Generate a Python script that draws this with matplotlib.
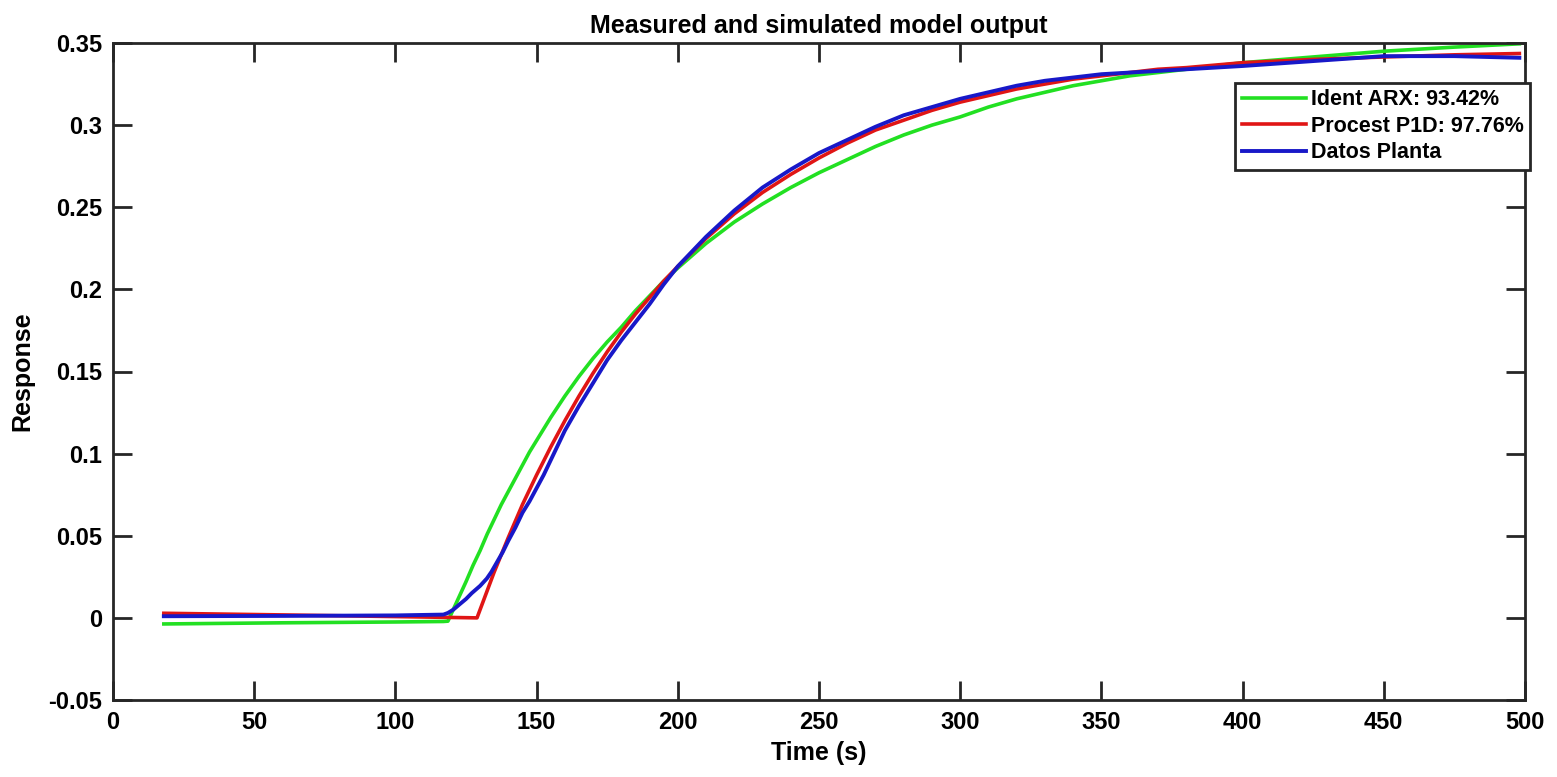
import os
os.environ.setdefault("MPLBACKEND", "Agg")

import matplotlib.pyplot as plt

# values
t_arx = [18, 60, 100, 117, 118.6, 121, 123, 125, 127.5, 130, 132.5, 135, 137.5, 140, 142.5,
         145, 147.5, 150, 155, 160, 165, 170, 175, 180, 185, 190, 195, 200, 210, 220, 230,
         240, 250, 260, 270, 280, 290, 300, 310, 320, 330, 340, 350, 360, 370, 380, 400, 425,
         450, 475, 498]
y_arx = [-0.0037, -0.0030, -0.0025, -0.0022, -0.0020, 0.007, 0.0145, 0.022, 0.032, 0.041,
         0.051, 0.060, 0.069, 0.077, 0.085, 0.093, 0.101, 0.108, 0.122, 0.135, 0.147, 0.158,
         0.168, 0.177, 0.187, 0.196, 0.205, 0.213, 0.228, 0.241, 0.252, 0.262, 0.271, 0.279,
         0.287, 0.294, 0.300, 0.305, 0.311, 0.316, 0.320, 0.324, 0.327, 0.330, 0.332, 0.334,
         0.338, 0.3415, 0.345, 0.3475, 0.3495]

t_p1d = [18, 60, 100, 128.9, 135, 140, 145, 150, 155, 160, 165, 170, 175, 180, 185, 190,
         195, 200, 210, 220, 230, 240, 250, 260, 270, 280, 290, 300, 310, 320, 330, 340,
         350, 360, 370, 380, 400, 425, 450, 475, 498]
y_p1d = [0.0028, 0.0018, 0.0008, 0.0, 0.028, 0.049, 0.069, 0.087, 0.104, 0.120, 0.135,
         0.149, 0.162, 0.174, 0.185, 0.195, 0.205, 0.214, 0.231, 0.246, 0.259, 0.270, 0.280,
         0.289, 0.297, 0.303, 0.309, 0.314, 0.318, 0.322, 0.325, 0.328, 0.330, 0.332, 0.334,
         0.335, 0.338, 0.340, 0.3415, 0.3428, 0.3436]

t_plant = [18, 60, 100, 117, 118.6, 120.5, 122.9, 125, 127, 130, 132.4, 134, 136, 138, 140,
           142.5, 145, 147.5, 150, 152.5, 155, 157.5, 160, 165, 170, 175, 180, 185, 190, 195,
           200, 210, 220, 230, 240, 250, 260, 270, 280, 290, 300, 310, 320, 330, 340, 350,
           360, 370, 380, 400, 425, 450, 475, 498]
y_plant = [0.0010, 0.0012, 0.0015, 0.0020, 0.0030, 0.0050, 0.0085, 0.0115, 0.0150, 0.0195,
           0.024, 0.028, 0.034, 0.040, 0.047, 0.055, 0.064, 0.071, 0.079, 0.087, 0.096, 0.105,
           0.114, 0.129, 0.143, 0.157, 0.169, 0.180, 0.191, 0.203, 0.214, 0.232, 0.248, 0.262,
           0.273, 0.283, 0.291, 0.299, 0.306, 0.311, 0.316, 0.320, 0.324, 0.327, 0.329, 0.331,
           0.332, 0.333, 0.334, 0.336, 0.339, 0.342, 0.342, 0.341]

labels = ["Ident ARX: 93.42%", "Procest P1D: 97.76%", "Datos Planta"]

plt.rcParams["font.family"] = ["Liberation Sans", "DejaVu Sans"]
plt.rcParams["font.weight"] = "bold"

fig = plt.figure(figsize=(15.57, 7.77), dpi=100)
ax = fig.add_axes([113 / 1557, 1 - 700 / 777, 1412 / 1557, 657 / 777])

ax.plot(t_arx, y_arx, color="#22e022", lw=2.6, label=labels[0])
ax.plot(t_p1d, y_p1d, color="#e01515", lw=2.6, label=labels[1])
ax.plot(t_plant, y_plant, color="#1818c8", lw=2.8, label=labels[2])

ax.set_xlim(0, 500)
ax.set_ylim(-0.05, 0.35)
ax.set_xticks(range(0, 501, 50))
ax.set_yticks([-0.05, 0, 0.05, 0.1, 0.15, 0.2, 0.25, 0.3, 0.35])
ax.set_yticklabels(["-0.05", "0", "0.05", "0.1", "0.15", "0.2", "0.25", "0.3", "0.35"])
ax.tick_params(direction="in", length=14, width=2, color="#262626", labelsize=17,
               top=True, right=True, pad=8)
for s in ax.spines.values():
    s.set_linewidth(2)
    s.set_color("#262626")

ax.set_xlabel("Time (s)", fontsize=18, fontweight="bold", labelpad=5)
ax.set_ylabel("Response", fontsize=18, fontweight="bold", labelpad=10)
ax.set_title("Measured and simulated model output", fontsize=18, fontweight="bold", pad=7)

leg = ax.legend(loc="upper right", bbox_to_anchor=(1530 / 1557, 1 - 83 / 777),
                bbox_transform=fig.transFigure, borderaxespad=0, fancybox=False,
                framealpha=1, edgecolor="#262626", fontsize=15.5, handlelength=3.0,
                handletextpad=0.2, borderpad=0.3, labelspacing=0.25)
leg.get_frame().set_linewidth(2)

fig.savefig("out.png", dpi=100)
